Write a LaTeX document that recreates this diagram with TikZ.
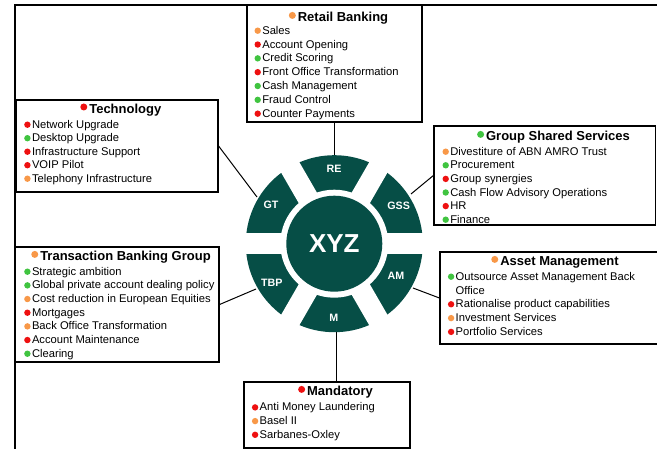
\documentclass[tikz,border=0pt]{standalone}
\usepackage{fontspec}
\setmainfont{Liberation Sans}
\definecolor{wheel}{RGB}{6,78,70}
\definecolor{ora}{RGB}{248,152,72}
\definecolor{rd}{RGB}{238,16,16}
\definecolor{gr}{RGB}{64,196,64}
\newcommand{\bul}[1]{\tikz[baseline=0pt]\fill[#1] (3.2pt,3.6pt) circle (3.2pt);\hspace{1.4pt}}
\newcommand{\tbul}[1]{\tikz[baseline=0pt]\fill[#1] (3.5pt,6.3pt) circle (3.5pt);\hspace{2pt}}
\begin{document}
\begin{tikzpicture}[x=1pt,y=-1pt,
  box/.style={draw=black, line width=1.2pt, inner sep=0pt, fill=white, rectangle},
  title/.style={font=\fontsize{13}{15}\selectfont\bfseries, inner sep=0pt, anchor=base},
  item/.style={font=\fontsize{11.2}{13}\selectfont, inner sep=0pt, anchor=base west},
  seglbl/.style={text=white, font=\fontsize{10.7}{12}\selectfont\bfseries, inner sep=0pt},
  conn/.style={line width=1pt, draw=black}]
\useasboundingbox (0,0) rectangle (657,449);

% frame
\draw[line width=2pt] (15,449) -- (15,5) -- (657,5);

% boxes
\node[box, minimum width=175pt, minimum height=117pt] (rbbox) at (334.5,63.5) {};
\node[box, minimum width=202pt, minimum height=92pt] (techbox) at (117,146) {};
\node[box, minimum width=221.5pt, minimum height=99pt] (gssbox) at (544.75,175.5) {};
\node[box, minimum width=204pt, minimum height=115pt] (tbgbox) at (117,304.5) {};
\node[box, minimum width=220pt, minimum height=92pt] (ambox) at (550,298) {};
\node[box, minimum width=166pt, minimum height=66pt] (mbox) at (327,415) {};

% wheel
\coordinate (c) at (334.3,243.7);
\fill[wheel] (c) circle (88.5pt);
\fill[white] (c) circle (54pt);
\foreach \a in {0,60,...,300} \draw[white, line width=21pt] (c) -- ++(\a:96pt);
\node[circle, fill=wheel, minimum size=96pt, inner sep=0pt, text=white,
      font=\fontsize{26}{30}\selectfont\bfseries] (xyz) at (c) {XYZ};
\node[seglbl] (re) at (334,169) {RE};
\node[seglbl] (gt) at (271,205.2) {GT};
\node[seglbl] (gss) at (398.7,205.8) {GSS};
\node[seglbl] (tbp) at (271.7,282.5) {TBP};
\node[seglbl] (am) at (396,276) {AM};
\node[seglbl] (m) at (333.8,318.3) {M};

% connectors
\coordinate (reEnd) at (334.5,155.5);
\coordinate (gtEnd) at (257,197);
\coordinate (gssEnd) at (411,194);
\coordinate (tbpEnd) at (256,289);
\coordinate (amEnd) at (413,288);
\coordinate (mEnd) at (336.5,332);
\draw[conn] (rbbox.south) -- (reEnd);
\draw[conn] (techbox.east) -- (gtEnd);
\draw[conn] (gssbox.west) -- (gssEnd);
\draw[conn] (tbgbox.east) -- (tbpEnd);
\draw[conn] (ambox.west) -- (amEnd);
\draw[conn] (mEnd) -- (mEnd |- mbox.north);

% Retail Banking
\node[title] (rbt) at (338.5,21.7) {\tbul{ora}Retail Banking};
\foreach \c/\t [count=\i from 0] in {ora/Sales, rd/Account Opening, gr/Credit Scoring, rd/Front Office Transformation, gr/Cash Management, gr/Fraud Control, rd/Counter Payments}
  \node[item] (rb\i) at (254.3,{34.3+13.83*\i}) {\bul{\c}\t};

% Technology
\node[title] (tet) at (120.8,113.3) {\tbul{rd}Technology};
\foreach \c/\t [count=\i from 0] in {rd/Network Upgrade, gr/Desktop Upgrade, rd/Infrastructure Support, rd/VOIP Pilot, ora/Telephony Infrastructure}
  \node[item] (te\i) at (24,{128.3+13.5*\i}) {\bul{\c}\t};

% Group Shared Services
\node[title] (gst) at (553.5,140.7) {\tbul{gr}Group Shared Services};
\foreach \c/\t [count=\i from 0] in {ora/Divestiture of ABN AMRO Trust, gr/Procurement, rd/Group synergies, gr/Cash Flow Advisory Operations, rd/HR, gr/Finance}
  \node[item] (gs\i) at (442.3,{155.3+13.6*\i}) {\bul{\c}\t};

% Transaction Banking Group
\node[title] (tbt) at (121,260.7) {\tbul{ora}Transaction Banking Group};
\foreach \c/\t [count=\i from 0] in {gr/Strategic ambition, gr/Global private account dealing policy, ora/Cost reduction in European Equities, rd/Mortgages, ora/Back Office Transformation, rd/Account Maintenance, gr/Clearing}
  \node[item] (tb\i) at (24,{275.3+13.67*\i}) {\bul{\c}\t};

% Asset Management
\node[title] (amt) at (555,265.7) {\tbul{ora}Asset Management};
\node[item] (am0) at (447.7,280.3) {\bul{gr}Outsource Asset Management Back};
\node[item] (am0b) at (455.5,294.1) {Office};
\foreach \c/\t [count=\i from 1] in {rd/Rationalise product capabilities, ora/Investment Services, rd/Portfolio Services}
  \node[item] (am\i) at (447.7,{294.1+13.8*\i}) {\bul{\c}\t};

% Mandatory
\node[title] (mt) at (335.5,395.7) {\tbul{rd}Mandatory};
\foreach \c/\t [count=\i from 0] in {rd/Anti Money Laundering, ora/Basel II, rd/Sarbanes-Oxley}
  \node[item] (md\i) at (251.7,{411+13.7*\i}) {\bul{\c}\t};
\end{tikzpicture}
\end{document}
